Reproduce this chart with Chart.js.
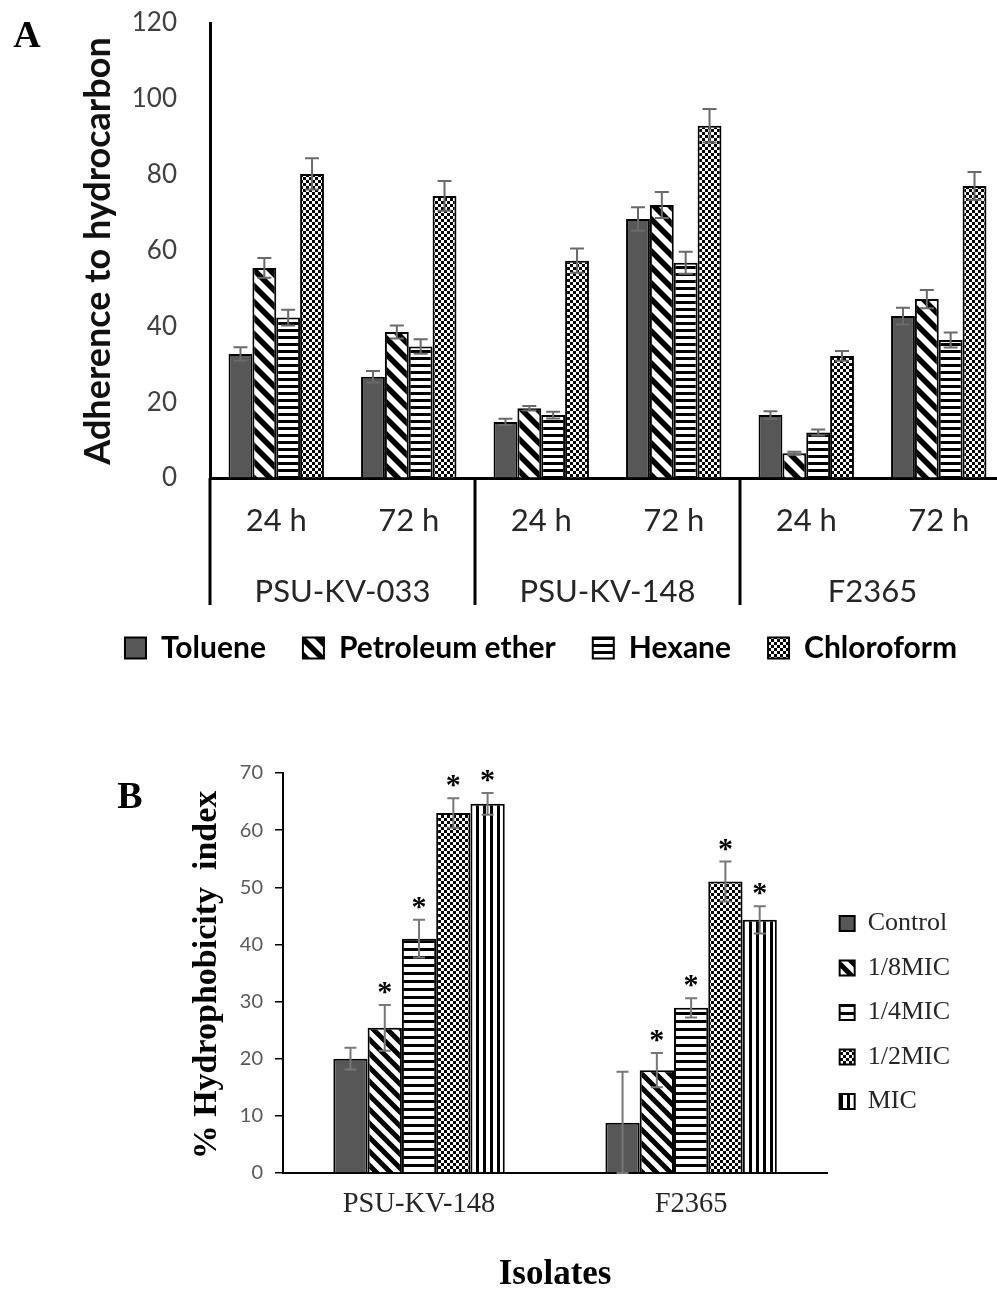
<!DOCTYPE html>
<html>
<head>
<meta charset="utf-8">
<script src="https://cdn.jsdelivr.net/npm/chart.js@4.4.1/dist/chart.umd.min.js"></script>
<style>
  html, body { margin: 0; padding: 0; background: #fff; overflow: hidden; }
  body { width: 997px; height: 1292px; position: relative; }
  #chartA { position: absolute; left: 0; top: 0; }
  #chartB { position: absolute; left: 0; top: 740px; }
</style>
</head>
<body>
<canvas id="chartA" width="1006" height="673"></canvas>
<canvas id="chartB" width="997" height="552"></canvas>
<script>
// ---- panel A: adherence to hydrocarbon
const horasA = ["24 h", "72 h", "24 h", "72 h", "24 h", "72 h"];
const cepasA = ["PSU-KV-033", "PSU-KV-148", "F2365"];
const ticksA = [0, 20, 40, 60, 80, 100, 120];
const toluene = [32.7, 26.7, 14.8, 68.3, 16.6, 42.7];
const tolueneErr = [1.8, 1.5, 0.8, 3.1, 1.0, 2.2];
const petEther = [55.4, 38.5, 18.4, 72.0, 6.5, 47.2];
const petEtherErr = [2.6, 1.7, 0.6, 3.4, 0.4, 2.4];
const hexane = [42.3, 34.7, 16.6, 56.8, 12.0, 36.4];
const hexaneErr = [2.1, 1.9, 0.9, 2.9, 0.8, 2.0];
const chloroform = [80.2, 74.4, 57.3, 92.9, 32.2, 77.0];
const chloroformErr = [4.1, 3.9, 3.2, 4.4, 1.3, 3.7];

// ---- panel B: % hydrophobicity index
const isolatesB = ["PSU-KV-148", "F2365"];
const ticksB = [0, 10, 20, 30, 40, 50, 60, 70];
const control = [20.0, 8.8];
const controlErr = [1.9, 8.9];
const mic8 = [25.4, 18.0];
const mic8Err = [4.0, 3.0];
const mic4 = [41.0, 28.9];
const mic4Err = [3.3, 1.7];
const mic2 = [63.0, 51.0];
const mic2Err = [2.6, 3.5];
const micFull = [64.6, 44.3];
const micFullErr = [1.9, 2.4];
const starsB = [false, true, true, true, true]; // significance marks per series

// small tiles used as bar fills
function patron(tipo, p, w) {
  const c = document.createElement("canvas");
  const g = c.getContext("2d");
  if (tipo === "diag") {
    c.width = p; c.height = p;
    g.fillStyle = "#fff"; g.fillRect(0, 0, p, p);
    g.strokeStyle = "#000"; g.lineWidth = w;
    g.beginPath();
    for (let k = -1; k <= 1; k++) {
      g.moveTo(-2, -2 + k * p);
      g.lineTo(p + 2, p + 2 + k * p);
    }
    g.stroke();
  } else if (tipo === "horiz") {
    c.width = 4; c.height = p;
    g.fillStyle = "#fff"; g.fillRect(0, 0, 4, p);
    g.fillStyle = "#000"; g.fillRect(0, 0, 4, w);
  } else if (tipo === "vert") {
    c.width = p; c.height = 4;
    g.fillStyle = "#fff"; g.fillRect(0, 0, p, 4);
    g.fillStyle = "#000"; g.fillRect(0, 0, w, 4);
  } else {
    c.width = 2 * p; c.height = 2 * p;
    g.fillStyle = "#fff"; g.fillRect(0, 0, 2 * p, 2 * p);
    g.fillStyle = "#000";
    g.fillRect(0, 0, p, p);
    g.fillRect(p, p, p, p);
  }
  return g.createPattern(c, "repeat");
}

const ctxA = document.getElementById("chartA").getContext("2d");
const ctxB = document.getElementById("chartB").getContext("2d");

const errorBars = {
  id: "errorBars",
  afterDatasetsDraw(chart, args, opts) {
    const { ctx } = chart;
    const y = chart.scales.y;
    chart.data.datasets.forEach((ds, i) => {
      const meta = chart.getDatasetMeta(i);
      meta.data.forEach((bar, j) => {
        const v = ds.data[j], e = ds.errores[j];
        const top = y.getPixelForValue(v + e);
        const bot = y.getPixelForValue(Math.max(0, v - e));
        ctx.save();
        ctx.strokeStyle = opts.color;
        ctx.lineWidth = opts.width;
        ctx.beginPath();
        ctx.moveTo(bar.x, top); ctx.lineTo(bar.x, bot);
        ctx.moveTo(bar.x - opts.cap / 2, top); ctx.lineTo(bar.x + opts.cap / 2, top);
        ctx.moveTo(bar.x - opts.cap / 2, bot); ctx.lineTo(bar.x + opts.cap / 2, bot);
        ctx.stroke();
        if (ds.estrella) {
          ctx.fillStyle = "#000";
          ctx.font = "bold 30px 'Liberation Serif'";
          ctx.textAlign = "center";
          ctx.textBaseline = "alphabetic";
          ctx.fillText("*", bar.x, top - 4);
        }
        ctx.restore();
      });
    });
  }
};

const rotulosA = {
  id: "rotulosA",
  afterDraw(chart) {
    const { ctx, chartArea } = chart;
    const x = chart.scales.x;
    const per = horasA.length / cepasA.length;
    ctx.save();
    ctx.strokeStyle = "#000";
    ctx.lineWidth = 3;
    ctx.beginPath();
    for (let g = 0; g <= cepasA.length; g++) {
      const px = Math.round(x.getPixelForValue(g * per - 0.5));
      ctx.moveTo(px, chartArea.bottom);
      ctx.lineTo(px, chartArea.bottom + 127);
    }
    ctx.stroke();
    ctx.fillStyle = "#262626";
    ctx.font = "31px Lato";
    ctx.textAlign = "center";
    ctx.textBaseline = "middle";
    cepasA.forEach((nombre, g) => {
      const cx = x.getPixelForValue(g * per + (per - 1) / 2);
      ctx.fillText(nombre, cx, chartArea.bottom + 114);
    });
    ctx.fillStyle = "#000";
    ctx.font = "bold 38px 'Liberation Serif'";
    ctx.fillText("A", 27, 37);
    ctx.translate(98, 251);
    ctx.rotate(-Math.PI / 2);
    ctx.fillStyle = "#111";
    ctx.font = "bold 36px Lato";
    ctx.fillText("Adherence to hydrocarbon", 0, 0);
    ctx.restore();
  }
};

const rotulosB = {
  id: "rotulosB",
  afterLayout(chart) {
    // nudge the legend a little closer to the plot
    chart.legend.left -= 6;
    chart.legend.right -= 6;
  },
  afterDraw(chart) {
    const { ctx, chartArea } = chart;
    ctx.save();
    ctx.fillStyle = "#000";
    ctx.textAlign = "center";
    ctx.textBaseline = "middle";
    ctx.font = "bold 38px 'Liberation Serif'";
    ctx.fillText("B", 130, 58);
    ctx.font = "bold 35px 'Liberation Serif'";
    ctx.fillText("Isolates", (chartArea.left + chartArea.right) / 2, 535);
    ctx.translate(207, 235);
    ctx.rotate(-Math.PI / 2);
    ctx.font = "bold 34px 'Liberation Serif'";
    ctx.fillText("% Hydrophobicity  index", 0, 0);
    ctx.restore();
  }
};

new Chart(ctxA, {
  type: "bar",
  data: {
    labels: horasA,
    datasets: [
      { label: "Toluene", data: toluene, errores: tolueneErr, backgroundColor: "#575757" },
      { label: "Petroleum ether", data: petEther, errores: petEtherErr, backgroundColor: patron("diag", 16, 5.5) },
      { label: "Hexane", data: hexane, errores: hexaneErr, backgroundColor: patron("horiz", 7, 3) },
      { label: "Chloroform", data: chloroform, errores: chloroformErr, backgroundColor: patron("check", 3) }
    ].map(d => Object.assign(d, { borderColor: "#000", borderWidth: 2, categoryPercentage: 0.72, barPercentage: 1 }))
  },
  options: {
    responsive: false,
    animation: false,
    layout: { padding: { left: 77, right: 1, top: 23, bottom: 0 } },
    plugins: {
      legend: {
        position: "bottom",
        labels: { font: { family: "Lato", size: 30, weight: "bold" }, color: "#000", boxWidth: 21, boxHeight: 21, padding: 37 }
      },
      tooltip: { enabled: false },
      errorBars: { color: "#6a6a6a", width: 2, cap: 14 }
    },
    scales: {
      x: {
        grid: { drawOnChartArea: false, drawTicks: false },
        border: { display: true, color: "#000", width: 3 },
        ticks: { font: { family: "Lato", size: 31 }, color: "#262626", padding: 24 },
        afterFit(s) { s.height = 118; }
      },
      y: {
        min: 0, max: 120,
        afterBuildTicks(s) { s.ticks = ticksA.map(v => ({ value: v })); },
        grid: { drawOnChartArea: false, drawTicks: false },
        border: { display: true, color: "#000", width: 3 },
        ticks: { font: { family: "Lato", size: 26 }, color: "#404040", padding: 33 },
        afterFit(s) { s.width = 133; s.paddingTop = 0; s.paddingBottom = 0; }
      }
    }
  },
  plugins: [errorBars, rotulosA]
});

const seriesB = [
  { label: "Control", data: control, errores: controlErr, backgroundColor: "#575757" },
  { label: "1/8MIC", data: mic8, errores: mic8Err, backgroundColor: patron("diag", 14, 5) },
  { label: "1/4MIC", data: mic4, errores: mic4Err, backgroundColor: patron("horiz", 8, 3) },
  { label: "1/2MIC", data: mic2, errores: mic2Err, backgroundColor: patron("check", 3) },
  { label: "MIC", data: micFull, errores: micFullErr, backgroundColor: patron("vert", 7, 3) }
];
seriesB.forEach((d, i) => Object.assign(d, {
  estrella: starsB[i], borderColor: "#000", borderWidth: 2, categoryPercentage: 0.63, barPercentage: 1
}));

new Chart(ctxB, {
  type: "bar",
  data: { labels: isolatesB, datasets: seriesB },
  options: {
    responsive: false,
    animation: false,
    layout: { padding: { left: 0, right: 31, top: 33, bottom: 40 } },
    plugins: {
      legend: {
        position: "right",
        align: "center",
        labels: { font: { family: "Liberation Serif", size: 26 }, color: "#262626", boxWidth: 15, boxHeight: 15, padding: 18.5 }
      },
      tooltip: { enabled: false },
      errorBars: { color: "#777", width: 2, cap: 12 }
    },
    scales: {
      x: {
        grid: { drawOnChartArea: false, drawTicks: false },
        border: { display: true, color: "#000", width: 2 },
        ticks: { font: { family: "Liberation Serif", size: 28.5 }, color: "#262626", padding: 14 },
        afterFit(s) { s.height = 79; }
      },
      y: {
        min: 0, max: 70,
        afterBuildTicks(s) { s.ticks = ticksB.map(v => ({ value: v })); },
        grid: { drawOnChartArea: false, drawTicks: true, tickLength: 8, color: "#000", lineWidth: 1.5 },
        border: { display: true, color: "#000", width: 2 },
        ticks: { font: { family: "Lato", size: 20 }, color: "#595959", padding: 12 },
        afterFit(s) { s.width = 283; }
      }
    }
  },
  plugins: [errorBars, rotulosB]
});
</script>
</body>
</html>
